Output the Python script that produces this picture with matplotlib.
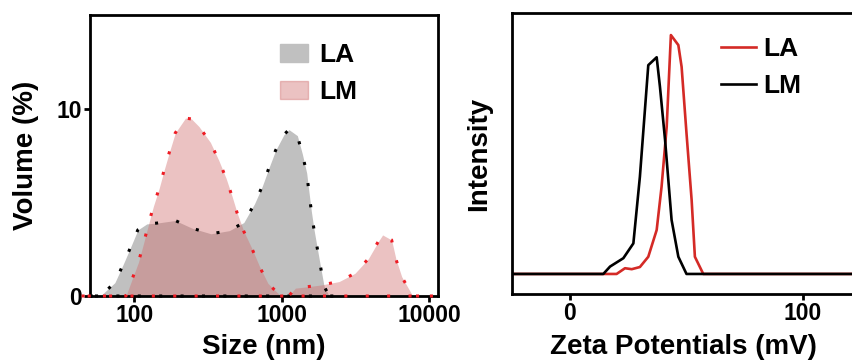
import numpy as np
import matplotlib
matplotlib.use("Agg")
import matplotlib.pyplot as plt
from matplotlib.patches import Patch

plt.rcParams["font.family"] = ["Liberation Sans", "DejaVu Sans"]
plt.rcParams["font.weight"] = "bold"

# size distribution (volume %)
la_size = [50, 59, 74, 84, 94, 106, 122, 142, 190, 247, 332, 443, 554, 655, 739, 820, 910,
           1037, 1122, 1279, 1383, 1480, 1535, 1592, 1660, 1750, 1842, 1940, 2100, 2400]
la_vol = [0, 0, 0.71, 1.66, 2.55, 3.53, 3.85, 3.89, 4.03, 3.62, 3.32, 3.49, 3.92, 4.92, 5.85, 6.83, 7.77,
          8.61, 8.88, 8.56, 7.58, 6.56, 5.52, 4.51, 3.53, 2.50, 1.51, 0.53, 0, 0]

lm_size = [44, 60, 88, 96.5, 107, 115.6, 125, 135, 148, 160, 174, 190, 223, 245, 275, 329, 375,
           420, 462, 500, 555, 632, 709, 807, 985, 1120, 1240, 1383, 1862, 2455, 3143, 3868,
           4520, 4842, 5574, 5966, 6523, 7345, 7740, 11000]
lm_vol = [0, 0, 0, 0.86, 1.80, 2.78, 3.80, 4.78, 5.76, 6.74, 7.72, 8.70, 9.50, 9.45, 9.05, 8.20, 7.24,
          6.29, 5.31, 4.42, 3.44, 2.50, 1.57, 0.68, 0, 0, 0.42, 0.46, 0.59, 0.77, 1.21, 1.98,
          2.90, 3.26, 2.99, 1.96, 1.03, 0.32, 0, 0]

# zeta potential spectra (normalised intensity)
la_zeta = [-30, 15, 20, 23.6, 26.5, 30, 33.6, 37.2, 39.3, 41.5, 43.3, 46.5, 47.9, 50, 52.2, 53.6, 57.2, 130]
la_int = [0, 0, 0, 0.024, 0.02, 0.029, 0.072, 0.184, 0.365, 0.616, 1.0, 0.958, 0.867, 0.589, 0.31, 0.072, 0, 0]

lm_zeta = [-30, 14.3, 17.2, 22.9, 27.2, 30, 33.6, 37.2, 38.6, 40.8, 43.6, 46.5, 50, 130]
lm_int = [0, 0, 0.031, 0.066, 0.128, 0.407, 0.874, 0.907, 0.784, 0.561, 0.226, 0.072, 0, 0]

gray = "#c0c0c0"
pink = (0.82, 0.43, 0.43)
red = "#d42a26"

fig = plt.figure(figsize=(8.53, 3.63), dpi=100)

# left panel
ax1 = fig.add_axes([0.1055, 0.1846, 0.408, 0.774])
ax1.fill_between(la_size, la_vol, color=gray, lw=0)
ax1.fill_between(lm_size, lm_vol, color=pink, alpha=0.42, lw=0)
# dotted outline goes round the whole area, baseline included
ax1.plot(la_size + [la_size[0]], la_vol + [0], color="black", lw=2.2, ls=(0, (1, 6)),
         clip_on=False, zorder=3)
ax1.plot(lm_size + [lm_size[0]], lm_vol + [0], color="#ee1c24", lw=2.2, ls=(0, (1, 6)),
         clip_on=False, zorder=3)
ax1.set_xscale("log")
ax1.set_xlim(50.2, 11500)
ax1.set_ylim(0, 15)
ax1.set_xticks([100, 1000, 10000])
ax1.set_xticklabels(["100", "1000", "10000"])
ax1.minorticks_off()
ax1.set_yticks([0, 10])
ax1.set_xlabel("Size (nm)", fontsize=20, fontweight="bold", labelpad=5)
ax1.set_ylabel("Volume (%)", fontsize=20, fontweight="bold", labelpad=12)
ax1.legend(handles=[Patch(color=gray, label="LA"), Patch(color=pink, alpha=0.42, label="LM")],
           loc="upper left", bbox_to_anchor=(0.478, 0.985), frameon=False,
           prop={"size": 19, "weight": "bold"}, handlelength=1.05, handleheight=0.7,
           handletextpad=0.45, labelspacing=0.5)

# right panel
ax2 = fig.add_axes([0.6002, 0.19, 0.4032, 0.774])
ax2.plot(la_zeta, la_int, color=red, lw=1.9, label="LA")
ax2.plot(lm_zeta, lm_int, color="black", lw=1.9, label="LM")
ax2.set_xlim(-24.9, 122.7)
ax2.set_ylim(-0.084, 1.092)
ax2.set_xticks([0, 100])
ax2.set_yticks([])
ax2.set_xlabel("Zeta Potentials (mV)", fontsize=20, fontweight="bold", labelpad=6)
ax2.set_ylabel("Intensity", fontsize=20, fontweight="bold", labelpad=14)
ax2.legend(loc="upper left", bbox_to_anchor=(0.54, 1.0), frameon=False,
           prop={"size": 19, "weight": "bold"}, handlelength=1.3,
           handletextpad=0.3, labelspacing=0.5)

for ax in (ax1, ax2):
    for s in ax.spines.values():
        s.set_linewidth(2)
    ax.tick_params(direction="out", length=4, width=2, labelsize=16.5, pad=2)

fig.savefig("out.png", dpi=100)
